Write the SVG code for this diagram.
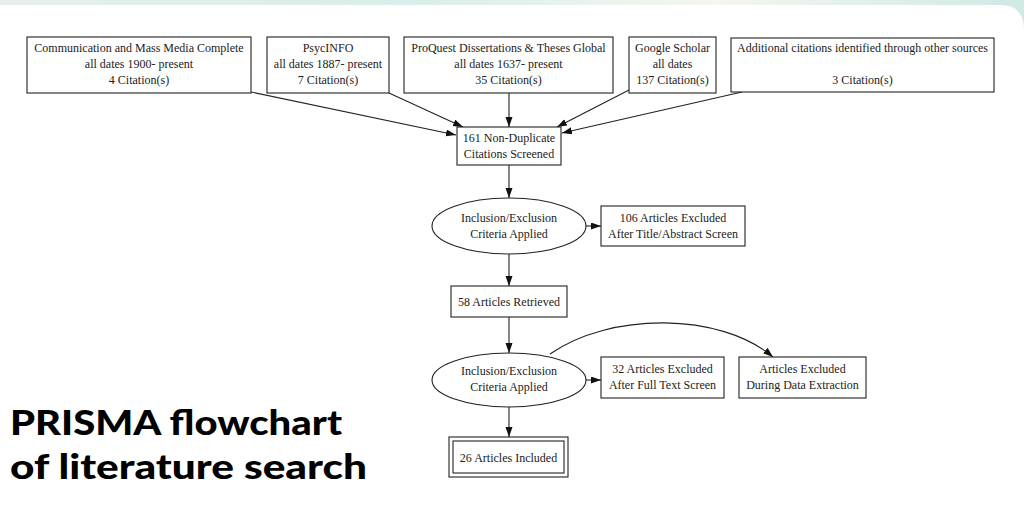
<svg xmlns="http://www.w3.org/2000/svg" width="1024" height="506" viewBox="0 0 1024 506">
<defs>
<linearGradient id="topband" x1="0" y1="0" x2="1" y2="0">
<stop offset="0" stop-color="#e6efe9"/>
<stop offset="0.4" stop-color="#d9eeea"/>
<stop offset="0.7" stop-color="#f4f6ef"/>
<stop offset="1" stop-color="#cfe9e5"/>
</linearGradient>
<marker id="ah" markerUnits="userSpaceOnUse" markerWidth="11" markerHeight="8" refX="10" refY="3.5" orient="auto">
<path d="M0,0 L10,3.5 L0,7 z" fill="#111"/>
</marker>
<style>
.n{fill:#fff;stroke:#222;stroke-width:1.1}
.t{font-family:"Liberation Serif","Times New Roman",serif;font-size:12px;fill:#222;text-anchor:middle}
.e{fill:none;stroke:#222;stroke-width:1.1;marker-end:url(#ah)}
.title{font-family:Lato,"Noto Sans",sans-serif;font-weight:900;font-size:35px;fill:#000}
</style>
</defs>
<rect x="0" y="0" width="1024" height="506" fill="url(#topband)"/>
<path d="M0,5 H1000 Q1024,5 1024,30 V506 H0 Z" fill="#fff"/>

<g id="connectors">
<path class="e" d="M251,92 L456,135"/>
<path class="e" d="M389,93 L463,127"/>
<path class="e" d="M509,93 L509,127"/>
<path class="e" d="M629,90 L557,127"/>
<path class="e" d="M742,92 L562,133"/>
<path class="e" d="M509,165 L509,198"/>
<path class="e" d="M585,226 L601,226"/>
<path class="e" d="M509,254 L509,286"/>
<path class="e" d="M509,317 L509,353"/>
<path class="e" d="M585,380 L601,380"/>
<path class="e" d="M509,406 L509,437"/>
<path class="e" d="M550,354 C610,312 720,312 773,357"/>
</g>

<g id="n-comm">
<rect class="n" x="27" y="37" width="224" height="56"/>
<text class="t" x="139" y="52">Communication and Mass Media Complete</text>
<text class="t" x="139" y="68">all dates 1900- present</text>
<text class="t" x="139" y="84">4 Citation(s)</text>
</g>
<g id="n-psyc">
<rect class="n" x="267" y="37" width="122" height="56"/>
<text class="t" x="328" y="52">PsycINFO</text>
<text class="t" x="328" y="68">all dates 1887- present</text>
<text class="t" x="328" y="84">7 Citation(s)</text>
</g>
<g id="n-proquest">
<rect class="n" x="404" y="37" width="209" height="56"/>
<text class="t" x="508.5" y="52">ProQuest Dissertations &amp; Theses Global</text>
<text class="t" x="508.5" y="68">all dates 1637- present</text>
<text class="t" x="508.5" y="84">35 Citation(s)</text>
</g>
<g id="n-google">
<rect class="n" x="629" y="37" width="87" height="56"/>
<text class="t" x="672.5" y="52">Google Scholar</text>
<text class="t" x="672.5" y="68">all dates</text>
<text class="t" x="672.5" y="84">137 Citation(s)</text>
</g>
<g id="n-additional">
<rect class="n" x="731" y="38" width="263" height="54"/>
<text class="t" x="862.5" y="52">Additional citations identified through other sources</text>
<text class="t" x="862.5" y="84">3 Citation(s)</text>
</g>
<g id="n-screened">
<rect class="n" x="457" y="127" width="104" height="38"/>
<text class="t" x="509" y="142">161  Non-Duplicate</text>
<text class="t" x="509" y="158">Citations Screened</text>
</g>
<g id="n-criteria1">
<ellipse class="n" cx="509" cy="226" rx="77" ry="28"/>
<text class="t" x="509" y="222">Inclusion/Exclusion</text>
<text class="t" x="509" y="238">Criteria Applied</text>
</g>
<g id="n-excluded1">
<rect class="n" x="601" y="206" width="144" height="40"/>
<text class="t" x="673" y="222">106 Articles Excluded</text>
<text class="t" x="673" y="238">After Title/Abstract Screen</text>
</g>
<g id="n-retrieved">
<rect class="n" x="451" y="286" width="116" height="31"/>
<text class="t" x="509" y="306">58 Articles Retrieved</text>
</g>
<g id="n-criteria2">
<ellipse class="n" cx="509" cy="380" rx="77" ry="27"/>
<text class="t" x="509" y="375">Inclusion/Exclusion</text>
<text class="t" x="509" y="391">Criteria Applied</text>
</g>
<g id="n-excluded2">
<rect class="n" x="601" y="357" width="123" height="41"/>
<text class="t" x="662.5" y="373">32 Articles Excluded</text>
<text class="t" x="662.5" y="389">After Full Text Screen</text>
</g>
<g id="n-excluded3">
<rect class="n" x="739" y="357" width="127" height="41"/>
<text class="t" x="802.5" y="373">Articles Excluded</text>
<text class="t" x="802.5" y="389">During Data Extraction</text>
</g>
<g id="n-included">
<rect class="n" x="449" y="437" width="119" height="40"/>
<rect class="n" x="453" y="441" width="111" height="32"/>
<text class="t" x="508.5" y="462">26 Articles Included</text>
</g>

<g id="title">
<text class="title" x="10" y="435" textLength="332" lengthAdjust="spacingAndGlyphs">PRISMA flowchart</text>
<text class="title" x="10" y="479" textLength="357" lengthAdjust="spacingAndGlyphs">of literature search</text>
</g>
</svg>
